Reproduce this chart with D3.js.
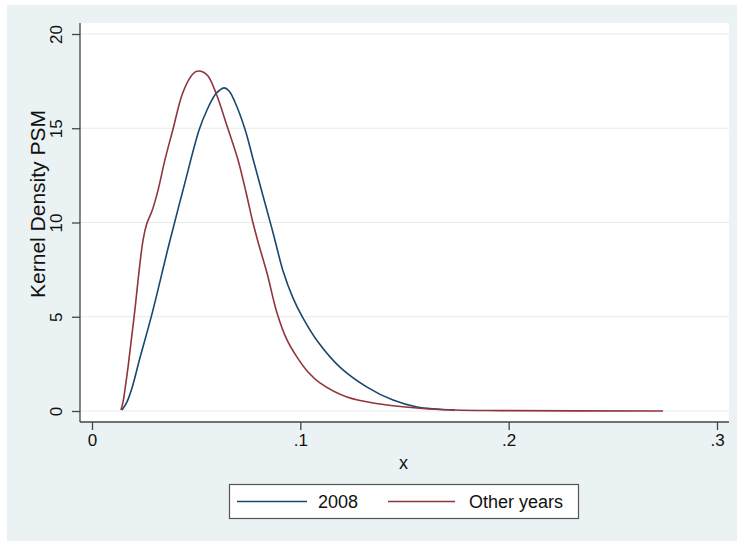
<!DOCTYPE html>
<html>
<head>
<meta charset="utf-8">
<script src="https://cdn.jsdelivr.net/npm/d3@7"></script>
<style>
  body { margin: 0; background: #fff; }
  text { font-family: "Liberation Sans", Arial, sans-serif; fill: #111; }
</style>
</head>
<body>
<div id="chart"></div>
<script>
// Kernel density values
const x2008 = [0.0144, 0.0168, 0.0192, 0.0230, 0.0288, 0.0370, 0.0442, 0.0514, 0.0552, 0.0590, 0.0614, 0.0634, 0.0658, 0.0686, 0.0734, 0.0773, 0.0821, 0.0864, 0.0878, 0.0917, 0.0965, 0.1013, 0.1085, 0.1190, 0.1320, 0.1445, 0.1560, 0.1742];
const y2008 = [0.05, 0.48, 1.22, 2.81, 5.15, 8.86, 11.94, 14.91, 15.97, 16.76, 17.03, 17.14, 16.98, 16.39, 14.96, 13.37, 11.41, 9.66, 9.07, 7.43, 5.99, 4.93, 3.66, 2.33, 1.27, 0.58, 0.21, 0.05];

const xOther = [0.0139, 0.0149, 0.0158, 0.0173, 0.0202, 0.0245, 0.0264, 0.0288, 0.0317, 0.0350, 0.0389, 0.0432, 0.0470, 0.0494, 0.0514, 0.0533, 0.0557, 0.0595, 0.0653, 0.0701, 0.0739, 0.0773, 0.0797, 0.0840, 0.0888, 0.0936, 0.0984, 0.1037, 0.1094, 0.1224, 0.1382, 0.1560, 0.1742, 0.1958, 0.2741];
const yOther = [0.05, 0.48, 1.11, 2.33, 4.99, 9.07, 9.97, 10.61, 11.72, 13.32, 14.96, 16.76, 17.67, 17.98, 18.04, 17.98, 17.77, 16.87, 14.96, 13.32, 11.62, 9.97, 8.97, 7.32, 5.20, 3.77, 2.86, 2.07, 1.49, 0.74, 0.37, 0.16, 0.05, 0.02, 0.0];

const xTicks = [0, 0.1, 0.2, 0.3];
const xTickLabels = ["0", ".1", ".2", ".3"];
const yTicks = [0, 5, 10, 15, 20];
const seriesNames = ["2008", "Other years"];

const W = 737, H = 541;
const navy = "#1A476F", maroon = "#90353B";

const svg = d3.select("#chart").append("svg")
  .attr("width", W).attr("height", H);

// graph region
svg.append("rect").attr("x", 7).attr("y", 5)
  .attr("width", W - 7).attr("height", H - 5)
  .attr("fill", "#EAF2F3");

// plot region
const plot = { left: 80, right: 729, top: 23, bottom: 422 };
svg.append("rect").attr("x", plot.left).attr("y", plot.top)
  .attr("width", plot.right - plot.left).attr("height", plot.bottom - plot.top)
  .attr("fill", "#fff");

const x = d3.scaleLinear().domain([0, 0.3]).range([92, 717]);
const y = d3.scaleLinear().domain([0, 20]).range([411, 34]);

// gridlines
svg.append("g").selectAll("line")
  .data(yTicks).enter().append("line")
  .attr("x1", plot.left).attr("x2", plot.right)
  .attr("y1", d => y(d)).attr("y2", d => y(d))
  .attr("stroke", "#E3ECEF").attr("stroke-width", 1);

// y axis
const yAxis = svg.append("g")
  .attr("transform", "translate(" + plot.left + ",0)")
  .call(d3.axisLeft(y).tickValues(yTicks).tickSize(8).tickFormat(d3.format("d")));
yAxis.select(".domain").attr("d", "M0," + plot.top + "V" + plot.bottom)
  .attr("stroke", "#444").attr("stroke-width", 1.3);
yAxis.selectAll(".tick line").attr("stroke", "#444").attr("stroke-width", 1.3);
yAxis.selectAll(".tick text")
  .attr("font-size", 17)
  .attr("font-family", "Liberation Sans, Arial, sans-serif")
  .attr("transform", "rotate(-90)")
  .attr("x", 0).attr("y", -24).attr("dy", null)
  .attr("text-anchor", "middle")
  .attr("dominant-baseline", "central");

// x axis
const xAxis = svg.append("g")
  .attr("transform", "translate(0," + plot.bottom + ")")
  .call(d3.axisBottom(x).tickValues(xTicks).tickSize(8).tickPadding(4)
    .tickFormat((d, i) => xTickLabels[i]));
xAxis.select(".domain").attr("d", "M" + plot.left + ",0H" + plot.right)
  .attr("stroke", "#444").attr("stroke-width", 1.3);
xAxis.selectAll(".tick line").attr("stroke", "#444").attr("stroke-width", 1.3);
xAxis.selectAll(".tick text")
  .attr("font-size", 17)
  .attr("font-family", "Liberation Sans, Arial, sans-serif");

// axis titles
svg.append("text")
  .attr("transform", "translate(37,204) rotate(-90)")
  .attr("text-anchor", "middle")
  .attr("dominant-baseline", "central")
  .attr("font-size", 21)
  .text("Kernel Density PSM");

svg.append("text")
  .attr("x", (plot.left + plot.right) / 2 - 1).attr("y", 469)
  .attr("text-anchor", "middle")
  .attr("font-size", 18)
  .text("x");

// curves
const line = d3.line()
  .x(d => x(d[0])).y(d => y(d[1]))
  .curve(d3.curveCatmullRom.alpha(0.5));

const s2008 = x2008.map((v, i) => [v, y2008[i]]);
const sOther = xOther.map((v, i) => [v, yOther[i]]);

svg.append("path").datum(s2008)
  .attr("d", line).attr("fill", "none")
  .attr("stroke", navy).attr("stroke-width", 1.6);

svg.append("path").datum(sOther)
  .attr("d", line).attr("fill", "none")
  .attr("stroke", maroon).attr("stroke-width", 1.6);

// legend
const lg = svg.append("g");
lg.append("rect").attr("x", 229.5).attr("y", 484.5)
  .attr("width", 349).attr("height", 34)
  .attr("fill", "#fff").attr("stroke", "#555").attr("stroke-width", 1.2);

const items = [
  { name: seriesNames[0], color: navy, x1: 237, x2: 307, tx: 318 },
  { name: seriesNames[1], color: maroon, x1: 388, x2: 455, tx: 469 }
];
items.forEach(it => {
  lg.append("line").attr("x1", it.x1).attr("x2", it.x2)
    .attr("y1", 501.5).attr("y2", 501.5)
    .attr("stroke", it.color).attr("stroke-width", 1.6);
  lg.append("text").attr("x", it.tx).attr("y", 508)
    .attr("font-size", 18).text(it.name);
});
</script>
</body>
</html>
